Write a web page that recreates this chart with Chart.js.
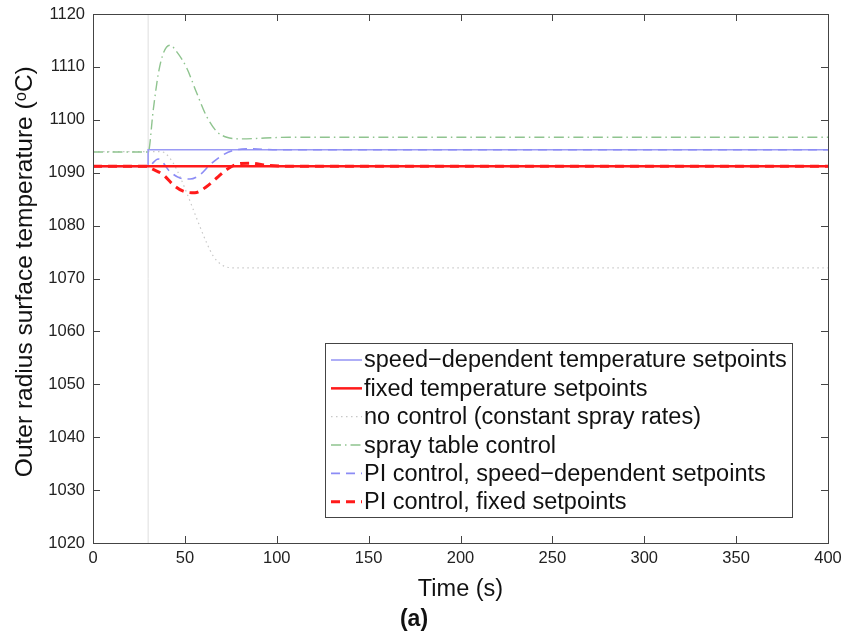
<!DOCTYPE html>
<html>
<head>
<meta charset="utf-8">
<script src="https://cdn.jsdelivr.net/npm/chart.js@4/dist/chart.umd.min.js"></script>
<style>
  html, body { margin: 0; padding: 0; background: #fff; }
  #wrap { width: 846px; height: 641px; }
</style>
</head>
<body>
<div id="wrap"><canvas id="chart-temp"></canvas></div>
<script>
// values (time in s, temperature in degC)
const xTicks = [0, 50, 100, 150, 200, 250, 300, 350, 400];
const yTicks = [1020, 1030, 1040, 1050, 1060, 1070, 1080, 1090, 1100, 1110, 1120];

const speedSetT = [0, 30, 30, 400];
const speedSetV = [1091.2, 1091.2, 1094.35, 1094.35];

const fixedSetT = [0, 400];
const fixedSetV = [1091.2, 1091.2];

const noCtrlT = [0, 30, 36, 39.2, 43.7, 47.3, 51, 54.6, 58.2, 61.9, 65.5, 70, 74.6, 80, 400];
const noCtrlV = [1094, 1094, 1094, 1093.7, 1091.8, 1089.3, 1086.2, 1083, 1079.8, 1076.7, 1074.2, 1072.6, 1072.05, 1072, 1072];

const sprayT = [0, 30, 32.8, 35.6, 38.3, 41.9, 45.5, 51, 56.4, 61.9, 67.3, 72.8, 80, 107, 400];
const sprayV = [1093.9, 1093.9, 1101.9, 1108.8, 1112.6, 1114.1, 1112.9, 1109.8, 1105.1, 1100.6, 1097.8, 1096.7, 1096.4, 1096.7, 1096.7];

const piSpeedT = [0, 30, 35.5, 41.9, 47.3, 52.8, 58.2, 63.7, 70.9, 78.2, 85.4, 100, 400];
const piSpeedV = [1091.2, 1091.2, 1092.6, 1090.2, 1089.0, 1088.8, 1089.6, 1091.5, 1093.4, 1094.35, 1094.5, 1094.35, 1094.35];

const piFixedT = [0, 30, 31.3, 38.3, 43.7, 49.1, 55.5, 61.9, 67.3, 72.8, 78.2, 85.4, 94.5, 110, 400];
const piFixedV = [1091.2, 1091.2, 1090.9, 1089.6, 1087.7, 1086.5, 1086.2, 1087.4, 1089.0, 1090.6, 1091.6, 1091.8, 1091.4, 1091.2, 1091.2];

const stepT = [30, 30];
const stepV = [1020, 1120];

const labels = [
    'speed\u2212dependent temperature setpoints',
    'fixed temperature setpoints',
    'no control (constant spray rates)',
    'spray table control',
    'PI control, speed\u2212dependent setpoints',
    'PI control, fixed setpoints'
];

function toPoints(ts, vs) {
    return ts.map((t, i) => ({ x: t, y: vs[i] }));
}

const FONT = '"Liberation Sans", Arial, Helvetica, sans-serif';

// legend drawn inside the axes, like the matlab one
const legendBox = {
    id: 'legendBox',
    afterDraw(chart) {
        const ctx = chart.ctx;
        const items = chart.data.datasets.filter(d => !d.noLegend);
        const x0 = 325, y0 = 343, w = 467, h = 174;
        ctx.save();
        ctx.fillStyle = '#fff';
        ctx.fillRect(x0, y0, w, h);
        ctx.strokeStyle = '#444';
        ctx.lineWidth = 1;
        ctx.strokeRect(x0 + 0.5, y0 + 0.5, w, h);
        ctx.font = '23.5px ' + FONT;
        ctx.textBaseline = 'middle';
        ctx.fillStyle = '#111';
        items.forEach((d, i) => {
            const y = 360 + i * 28.35;
            ctx.save();
            ctx.strokeStyle = d.borderColor;
            ctx.lineWidth = d.borderWidth;
            ctx.setLineDash(d.borderDash || []);
            ctx.beginPath();
            ctx.moveTo(331, y);
            ctx.lineTo(362, y);
            ctx.stroke();
            ctx.restore();
            ctx.fillText(d.label, 364, y + 1);
        });
        ctx.restore();
    }
};

// box round the axes and inward tick marks on all four sides
const axesBox = {
    id: 'axesBox',
    afterDatasetsDraw(chart) {
        const { ctx, chartArea: a, scales } = chart;
        ctx.save();
        ctx.strokeStyle = '#444';
        ctx.lineWidth = 1;
        ctx.strokeRect(a.left + 0.5, a.top + 0.5, a.right - a.left, a.bottom - a.top);
        ctx.beginPath();
        const tl = 7;
        scales.x.ticks.forEach(t => {
            const px = Math.round(scales.x.getPixelForValue(t.value)) + 0.5;
            ctx.moveTo(px, a.bottom); ctx.lineTo(px, a.bottom - tl);
            ctx.moveTo(px, a.top); ctx.lineTo(px, a.top + tl);
        });
        scales.y.ticks.forEach(t => {
            const py = Math.round(scales.y.getPixelForValue(t.value)) + 0.5;
            ctx.moveTo(a.left, py); ctx.lineTo(a.left + tl, py);
            ctx.moveTo(a.right, py); ctx.lineTo(a.right - tl, py);
        });
        ctx.stroke();
        ctx.restore();
    }
};

const ctx = document.getElementById('chart-temp');

new Chart(ctx, {
    type: 'line',
    data: {
        datasets: [
            {
                label: 'step',
                noLegend: true,
                data: toPoints(stepT, stepV),
                borderColor: '#dedede',
                borderWidth: 1,
                tension: 0,
                order: 10
            },
            {
                label: labels[0],
                data: toPoints(speedSetT, speedSetV),
                borderColor: '#9a9af5',
                borderWidth: 1.6,
                tension: 0,
                order: 5
            },
            {
                label: labels[1],
                data: toPoints(fixedSetT, fixedSetV),
                borderColor: '#ff1a1a',
                borderWidth: 2.5,
                tension: 0,
                order: 1
            },
            {
                label: labels[2],
                data: toPoints(noCtrlT, noCtrlV),
                borderColor: '#c8c8c8',
                borderWidth: 1.2,
                borderDash: [1.5, 3.5],
                cubicInterpolationMode: 'monotone',
                order: 6
            },
            {
                label: labels[3],
                data: toPoints(sprayT, sprayV),
                borderColor: '#8fc48f',
                borderWidth: 1.4,
                borderDash: [10, 4, 1.5, 4],
                cubicInterpolationMode: 'monotone',
                order: 4
            },
            {
                label: labels[4],
                data: toPoints(piSpeedT, piSpeedV),
                borderColor: '#8c8cf5',
                borderWidth: 1.6,
                borderDash: [9, 6],
                cubicInterpolationMode: 'monotone',
                order: 3
            },
            {
                label: labels[5],
                data: toPoints(piFixedT, piFixedV),
                borderColor: '#ff1a1a',
                borderWidth: 3,
                borderDash: [9, 6],
                cubicInterpolationMode: 'monotone',
                order: 2
            }
        ]
    },
    options: {
        responsive: true,
        maintainAspectRatio: false,
        animation: false,
        events: [],
        elements: { point: { radius: 0 } },
        layout: { padding: { left: 0, top: 14, right: 18, bottom: 0 } },
        scales: {
            x: {
                type: 'linear',
                min: 0,
                max: 400,
                afterBuildTicks: s => { s.ticks = xTicks.map(v => ({ value: v })); },
                afterFit: s => { s.height = 62.4; s.paddingLeft = 0; s.paddingRight = 0; },
                grid: { display: false, drawTicks: false },
                border: { display: false },
                ticks: {
                    padding: 6,
                    color: '#222',
                    font: { family: FONT, size: 16.5 },
                    maxRotation: 0,
                    callback: v => String(v)
                },
                title: {
                    display: true,
                    text: 'Time (s)',
                    color: '#111',
                    font: { family: FONT, size: 23.5 },
                    padding: { top: 0, bottom: 2 }
                }
            },
            y: {
                type: 'linear',
                min: 1020,
                max: 1120,
                afterBuildTicks: s => { s.ticks = yTicks.map(v => ({ value: v })); },
                afterFit: s => { s.width = 93; s.paddingTop = 0; s.paddingBottom = 0; },
                grid: { display: false, drawTicks: false },
                border: { display: false },
                ticks: {
                    padding: 8,
                    color: '#222',
                    font: { family: FONT, size: 16.5 },
                    callback: v => String(v)
                },
                title: {
                    display: true,
                    text: '\u00a0\u00a0Outer radius surface temperature (\u1D52C)',
                    color: '#111',
                    font: { family: FONT, size: 24.5 },
                    padding: { top: 11, bottom: 0 }
                }
            }
        },
        plugins: {
            legend: { display: false },
            tooltip: { enabled: false },
            title: {
                display: true,
                position: 'bottom',
                text: '(a)',
                color: '#111',
                font: { family: FONT, size: 23, weight: 'bold' },
                padding: { top: 0, bottom: 8 }
            }
        }
    },
    plugins: [axesBox, legendBox]
});
</script>
</body>
</html>
